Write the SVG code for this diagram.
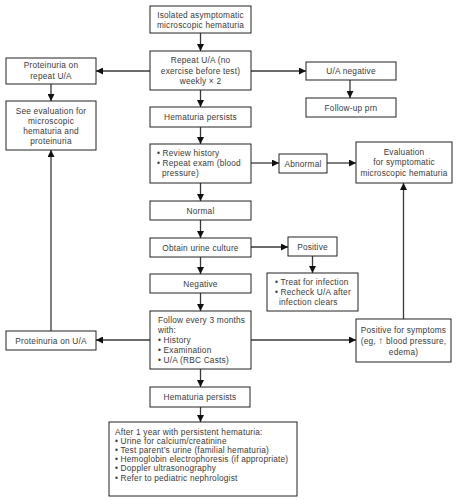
<svg xmlns="http://www.w3.org/2000/svg" width="458" height="500" viewBox="0 0 458 500">
<defs>
<style>
.box{fill:#fff;stroke:#222;stroke-width:1}
text{font-family:"Liberation Sans",Arial,sans-serif;font-size:8.3px;letter-spacing:0.2px;fill:#3a3a3a}
.c{text-anchor:middle}
.up{font-size:10px}
.ln{stroke:#3a3a3a;stroke-width:1.3;fill:none;marker-end:url(#ah)}
</style>
<marker id="ah" markerUnits="userSpaceOnUse" markerWidth="7" markerHeight="7" refX="7" refY="3.5" orient="auto">
<path d="M0,0 L7,3.5 L0,7 z" fill="#111"/>
</marker>
</defs>
<rect width="458" height="500" fill="#fff"/>
<g id="connectors">
<path class="ln" d="M200.5,33 V51"/>
<path class="ln" d="M150,71 H96"/>
<path class="ln" d="M251,71 H306"/>
<path class="ln" d="M350,80 V98"/>
<path class="ln" d="M51,84 V101"/>
<path class="ln" d="M200.5,90 V107"/>
<path class="ln" d="M200.5,127 V144"/>
<path class="ln" d="M251,163 H279"/>
<path class="ln" d="M327,163 H356"/>
<path class="ln" d="M200.5,183 V201"/>
<path class="ln" d="M200.5,220 V238"/>
<path class="ln" d="M251,247 H288"/>
<path class="ln" d="M312.5,256 V273"/>
<path class="ln" d="M200.5,257 V274"/>
<path class="ln" d="M200.5,293 V311"/>
<path class="ln" d="M150,340 H96"/>
<path class="ln" d="M251,340 H356"/>
<path class="ln" d="M403.5,319 V183"/>
<path class="ln" d="M51,331 V150"/>
<path class="ln" d="M200.5,369 V387"/>
<path class="ln" d="M200.5,407 V422"/>
</g>
<g id="n-isolated">
<rect class="box" x="150" y="6" width="101" height="27"/>
<text class="c" x="200.5" y="18">Isolated asymptomatic</text>
<text class="c" x="200.5" y="28">microscopic hematuria</text>
</g>
<g id="n-repeat">
<rect class="box" x="150" y="51" width="101" height="39"/>
<text class="c" x="200.5" y="63">Repeat U/A (no</text>
<text class="c" x="200.5" y="74">exercise before test)</text>
<text class="c" x="200.5" y="84">weekly × 2</text>
</g>
<g id="n-prot-repeat">
<rect class="box" x="6" y="58" width="90" height="26"/>
<text class="c" x="51" y="68">Proteinuria on</text>
<text class="c" x="51" y="79">repeat U/A</text>
</g>
<g id="n-see-eval">
<rect class="box" x="6" y="101" width="90" height="49"/>
<text class="c" x="51" y="114">See evaluation for</text>
<text class="c" x="51" y="124">microscopic</text>
<text class="c" x="51" y="134">hematuria and</text>
<text class="c" x="51" y="144">proteinuria</text>
</g>
<g id="n-ua-neg">
<rect class="box" x="306" y="62" width="90" height="18"/>
<text class="c" x="351" y="74">U/A negative</text>
</g>
<g id="n-followup">
<rect class="box" x="306" y="98" width="90" height="19"/>
<text class="c" x="351" y="110.5">Follow-up prn</text>
</g>
<g id="n-hem-persists1">
<rect class="box" x="150" y="107" width="101" height="20"/>
<text class="c" x="200.5" y="120">Hematuria persists</text>
</g>
<g id="n-review">
<rect class="box" x="150" y="144" width="101" height="39"/>
<text x="157" y="156">• Review history</text>
<text x="157" y="166">• Repeat exam (blood</text>
<text x="162" y="176">pressure)</text>
</g>
<g id="n-abnormal">
<rect class="box" x="279" y="154" width="48" height="19"/>
<text class="c" x="303" y="166.5">Abnormal</text>
</g>
<g id="n-eval-sympt">
<rect class="box" x="356" y="142" width="96" height="41"/>
<text class="c" x="404" y="155">Evaluation</text>
<text class="c" x="404" y="165">for symptomatic</text>
<text class="c" x="404" y="176">microscopic hematuria</text>
</g>
<g id="n-normal">
<rect class="box" x="150" y="201" width="101" height="19"/>
<text class="c" x="200.5" y="213.5">Normal</text>
</g>
<g id="n-culture">
<rect class="box" x="150" y="238" width="101" height="19"/>
<text class="c" x="200.5" y="250.5">Obtain urine culture</text>
</g>
<g id="n-positive">
<rect class="box" x="288" y="237" width="49" height="19"/>
<text class="c" x="312.5" y="249.5">Positive</text>
</g>
<g id="n-treat">
<rect class="box" x="267" y="273" width="91" height="38"/>
<text x="275" y="285">• Treat for infection</text>
<text x="275" y="295">• Recheck U/A after</text>
<text x="279" y="305">infection clears</text>
</g>
<g id="n-negative">
<rect class="box" x="150" y="274" width="101" height="19"/>
<text class="c" x="200.5" y="286.5">Negative</text>
</g>
<g id="n-follow3">
<rect class="box" x="150" y="311" width="101" height="58"/>
<text x="158" y="323">Follow every 3 months</text>
<text x="158" y="333">with:</text>
<text x="158" y="343">• History</text>
<text x="158" y="353">• Examination</text>
<text x="158" y="363">• U/A (RBC Casts)</text>
</g>
<g id="n-prot-ua">
<rect class="box" x="6" y="331" width="90" height="19"/>
<text class="c" x="51" y="343.5">Proteinuria on U/A</text>
</g>
<g id="n-pos-sympt">
<rect class="box" x="356" y="319" width="95" height="43"/>
<text class="c" x="403.5" y="333">Positive for symptoms</text>
<text class="c" x="403.5" y="344">(eg, <tspan class="up">↑</tspan> blood pressure,</text>
<text class="c" x="403.5" y="355">edema)</text>
</g>
<g id="n-hem-persists2">
<rect class="box" x="150" y="387" width="100" height="20"/>
<text class="c" x="200" y="400">Hematuria persists</text>
</g>
<g id="n-after-year">
<rect class="box" x="109" y="422" width="188" height="74"/>
<text x="115" y="435">After 1 year with persistent hematuria:</text>
<text x="115" y="444">• Urine for calcium/creatinine</text>
<text x="115" y="453">• Test parent’s urine (familial hematuria)</text>
<text x="115" y="462">• Hemoglobin electrophoresis (if appropriate)</text>
<text x="115" y="471">• Doppler ultrasonography</text>
<text x="115" y="481">• Refer to pediatric nephrologist</text>
</g>
</svg>
